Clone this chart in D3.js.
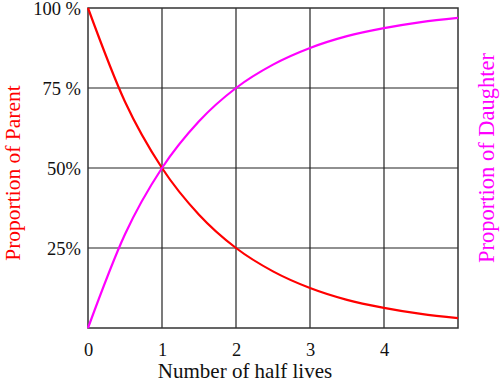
<!DOCTYPE html>
<html>
<head>
<meta charset="utf-8">
<script src="https://cdn.jsdelivr.net/npm/d3@7"></script>
<style>
  body { margin: 0; background: #fff; }
  text { font-family: "Liberation Serif", "DejaVu Serif", serif; }
</style>
</head>
<body>
<div id="chart"></div>
<script>
// Chart data
var halfLives = [0, 0.5, 1, 1.5, 2, 2.5, 3, 3.5, 4, 4.5, 5];
var parentPct = [100, 70.7, 50, 35.4, 25, 17.7, 12.5, 8.8, 6.3, 4.4, 3.1];
var daughterPct = [0, 29.3, 50, 64.6, 75, 82.3, 87.5, 91.2, 93.7, 95.6, 96.9];
var xTicks = [0, 1, 2, 3, 4];
var yTicks = [25, 50, 75, 100];
var yTickLabels = ["25%", "50%", "75 %", "100 %"];

var svgWidth = 500;
var svgHeight = 383;
var margin = { top: 8, right: 42, bottom: 55, left: 88 };
var width = svgWidth - margin.left - margin.right;
var height = svgHeight - margin.top - margin.bottom;

var svg = d3.select("#chart")
    .append("svg")
    .attr("width", svgWidth)
    .attr("height", svgHeight);

var chartGroup = svg.append("g")
    .attr("transform", `translate(${margin.left}, ${margin.top})`);

var x = d3.scaleLinear().domain([0, 5]).range([0, width]);
var y = d3.scaleLinear().domain([0, 100]).range([height, 0]);

// grid lines
chartGroup.selectAll(".vgrid")
    .data([1, 2, 3, 4])
    .enter()
    .append("line")
    .attr("x1", d => x(d)).attr("x2", d => x(d))
    .attr("y1", 0).attr("y2", height)
    .attr("stroke", "#222").attr("stroke-width", 1.2);

chartGroup.selectAll(".hgrid")
    .data([25, 50, 75])
    .enter()
    .append("line")
    .attr("x1", 0).attr("x2", width)
    .attr("y1", d => y(d)).attr("y2", d => y(d))
    .attr("stroke", "#222").attr("stroke-width", 1.2);

// frame
chartGroup.append("rect")
    .attr("width", width).attr("height", height)
    .attr("fill", "none")
    .attr("stroke", "#333").attr("stroke-width", 1.5);

// axes (labels only)
var bottomAxis = d3.axisBottom(x).tickValues(xTicks).tickSize(0).tickPadding(15)
    .tickFormat(d3.format("d"));
var leftAxis = d3.axisLeft(y).tickValues(yTicks).tickSize(0).tickPadding(7)
    .tickFormat((d, i) => yTickLabels[i]);

var gx = chartGroup.append("g")
    .attr("transform", `translate(0, ${height})`)
    .call(bottomAxis);
var gy = chartGroup.append("g").call(leftAxis);
[gx, gy].forEach(function(g) {
    g.select(".domain").remove();
    g.selectAll("text")
        .attr("font-family", "Liberation Serif, serif")
        .attr("font-size", "18.5px")
        .attr("fill", "#111");
});
gy.selectAll("text").attr("dy", "0.35em");

// curves
var line = d3.line()
    .x(d => x(d[0]))
    .y(d => y(d[1]))
    .curve(d3.curveMonotoneX);

chartGroup.append("path")
    .datum(halfLives.map((h, i) => [h, parentPct[i]]))
    .attr("d", line)
    .attr("fill", "none")
    .attr("stroke", "#ff0000")
    .attr("stroke-width", 2.2);

chartGroup.append("path")
    .datum(halfLives.map((h, i) => [h, daughterPct[i]]))
    .attr("d", line)
    .attr("fill", "none")
    .attr("stroke", "#ff00ff")
    .attr("stroke-width", 2.2);

// axis titles
svg.append("text")
    .attr("x", 245)
    .attr("y", 378)
    .attr("text-anchor", "middle")
    .attr("font-size", "21px")
    .attr("fill", "#111")
    .text("Number of half lives");

svg.append("text")
    .attr("transform", "translate(20, 173) rotate(-90)")
    .attr("text-anchor", "middle")
    .attr("font-size", "21.5px")
    .attr("fill", "#ff0000")
    .text("Proportion of Parent");

svg.append("text")
    .attr("transform", "translate(494, 158) rotate(-90)")
    .attr("text-anchor", "middle")
    .attr("font-size", "22.5px")
    .attr("fill", "#ff00ff")
    .text("Proportion of Daughter");
</script>
</body>
</html>
